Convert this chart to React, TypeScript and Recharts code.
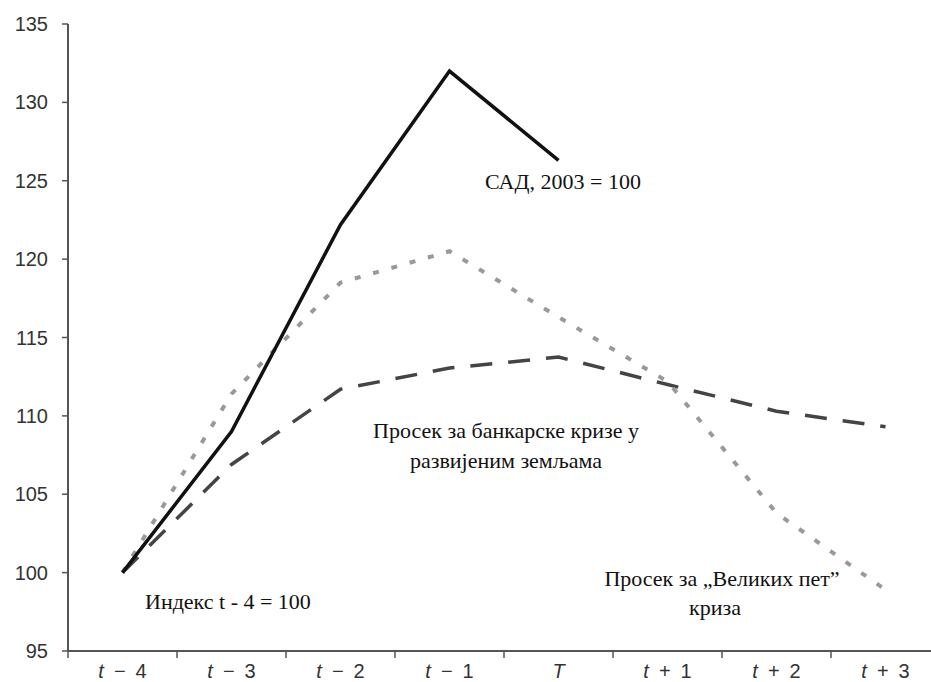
import { LineChart, Line, XAxis, YAxis } from 'recharts';

// tick labels on the x axis (the leading letter is drawn in italics)
const periods = ['t − 4', 't − 3', 't − 2', 't − 1', 'T', 't + 1', 't + 2', 't + 3'];

// index values
const usa = [100, 109, 122.2, 132, 126.3, null, null, null];
const bigFive = [100, 111.4, 118.5, 120.5, 116.3, 112.2, 103.8, 98.9];
const banking = [100, 106.9, 111.7, 113.05, 113.75, 112.0, 110.3, 109.3];

const yTicks = [95, 100, 105, 110, 115, 120, 125, 130, 135];

const rows = periods.map((p, i) => ({
  name: p,
  usa: usa[i],
  bigFive: bigFive[i],
  banking: banking[i],
}));

const W = 940;
const H = 682;
const LEFT = 68;
const AXIS = '#555';
const serif = "Liberation Serif, Times New Roman, serif";
const sans = "Liberation Sans, Arial, sans-serif";

const PeriodTick = (props: any) => {
  const { x, y, payload } = props;
  const half = payload.offset ?? (W - LEFT) / periods.length / 2;
  const label: string = payload.value;
  // wider gaps around the operator, as in the original
  const rest = label.slice(1).replace(/ /g, '\u2002');
  return (
    <g>
      <line x1={x - half} x2={x - half} y1={y} y2={y + 7} stroke={AXIS} strokeWidth={1.5} />
      <text x={x} y={y + 27} textAnchor="middle" style={{ fontFamily: sans, fontSize: 20 }} fill="#333">
        <tspan fontStyle="italic">{label[0]}</tspan>
        {rest}
      </text>
    </g>
  );
};

const note = { fontFamily: serif, fontSize: 22 };

export default function App() {
  return (
    <div style={{ position: 'absolute', left: 0, top: 0, width: 931, height: 682, overflow: 'hidden', background: '#fff' }}>
      <LineChart width={W} height={H} data={rows} margin={{ top: 24, right: 0, left: 0, bottom: 0 }}>
        <XAxis
          dataKey="name"
          scale="band"
          interval={0}
          height={31}
          tickSize={0}
          tickMargin={0}
          tickLine={false}
          axisLine={{ stroke: AXIS, strokeWidth: 2 }}
          tick={<PeriodTick />}
        />
        <YAxis
          width={LEFT}
          domain={[95, 135]}
          ticks={yTicks}
          interval={0}
          tickSize={6}
          tickMargin={14}
          axisLine={{ stroke: AXIS, strokeWidth: 2 }}
          tickLine={{ stroke: AXIS, strokeWidth: 1.5 }}
          tick={{ fill: '#333', fontSize: 20, fontFamily: sans }}
        />
        <Line
          type="linear"
          dataKey="banking"
          stroke="#444"
          strokeWidth={3.5}
          strokeDasharray="22 16"
          dot={false}
          isAnimationActive={false}
        />
        <Line
          type="linear"
          dataKey="bigFive"
          stroke="#999"
          strokeWidth={4}
          strokeDasharray="6 13"
          dot={false}
          isAnimationActive={false}
        />
        <Line
          type="linear"
          dataKey="usa"
          stroke="#111"
          strokeWidth={3.5}
          dot={false}
          isAnimationActive={false}
        />
      </LineChart>
      <svg
        width={931}
        height={682}
        style={{ position: 'absolute', left: 0, top: 0, pointerEvents: 'none' }}
        fill="#111"
      >
        <text x={485} y={189} style={note}>САД, 2003 = 100</text>
        <text x={506} y={438} textAnchor="middle" style={note}>Просек за банкарске кризе у</text>
        <text x={506} y={468} textAnchor="middle" style={note}>развијеним земљама</text>
        <text x={145} y={609} style={note}>Индекс t - 4 = 100</text>
        <text x={722} y={586} textAnchor="middle" style={note}>Просек за „Великих пет”</text>
        <text x={715} y={615} textAnchor="middle" style={note}>криза</text>
      </svg>
    </div>
  );
}
